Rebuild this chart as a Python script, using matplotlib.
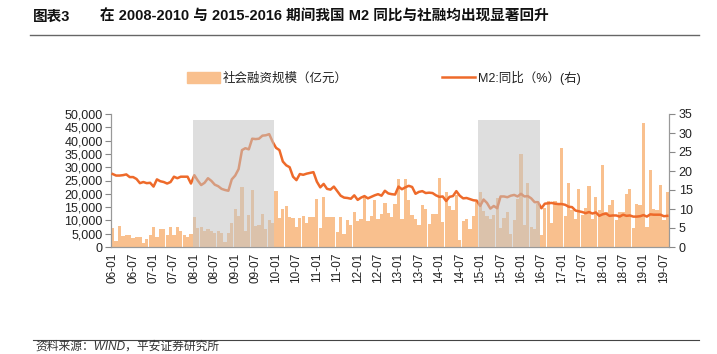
import matplotlib
matplotlib.use("Agg")
import matplotlib.pyplot as plt
from matplotlib.lines import Line2D
from matplotlib.ticker import FuncFormatter, MultipleLocator
import numpy as np

plt.rcParams['font.family'] = ['Liberation Sans', 'Noto Sans CJK SC', 'DejaVu Sans']

# ---------------- data ----------------
years = list(range(2006, 2020))
months_per_year = [12] * 13 + [8]

sf_2006 = [7000, 2300, 7900, 4100, 4400, 4400, 3300, 3900, 3600, 1600, 3100, 4400]
sf_2007 = [7400, 3900, 6800, 6600, 4500, 7500, 4500, 7500, 5900, 4400, 3800, 4900]
sf_2008 = [11300, 7000, 7600, 6000, 6600, 6100, 5400, 6100, 5100, 2000, 5100, 8900]
sf_2009 = [14400, 11700, 22400, 6100, 12000, 21400, 7900, 8300, 12300, 6600, 10200, 8900]
sf_2010 = [21000, 11000, 14200, 15400, 11100, 10800, 7600, 11000, 11600, 9100, 11100, 11400]
sf_2011 = [17900, 7000, 18700, 11400, 11100, 11100, 5800, 11100, 4900, 10100, 8300, 13300]
sf_2012 = [9700, 10400, 18700, 9600, 11800, 17800, 10400, 12400, 16500, 12900, 11400, 16300]
sf_2013 = [25400, 10700, 25500, 17600, 11900, 10400, 8200, 15800, 14100, 8600, 12300, 12500]
sf_2014 = [25800, 9400, 20700, 15500, 14000, 19700, 2700, 9600, 10500, 6600, 11500, 16900]
sf_2015 = [20500, 13600, 11800, 10500, 12200, 18300, 7200, 10800, 13000, 4800, 10200, 18200]
sf_2016 = [35000, 8300, 24000, 7500, 6600, 16300, 4500, 14700, 17200, 8900, 17400, 16300]
sf_2017 = [37400, 11500, 24000, 13900, 10600, 21700, 12200, 14800, 22800, 10400, 18700, 14000]
sf_2018 = [31000, 13000, 15800, 17700, 10100, 13000, 13000, 19900, 21700, 7300, 16000, 15900]
sf_2019 = [46500, 7600, 28900, 14400, 14000, 23300, 10100, 20800]

m2_2006 = [19.2, 18.8, 18.8, 18.9, 19.1, 18.4, 18.4, 17.9, 16.8, 17.1, 16.8, 16.9]
m2_2007 = [15.9, 17.8, 17.3, 17.1, 16.7, 17.1, 18.5, 18.1, 18.5, 18.5, 18.5, 16.7]
m2_2008 = [18.9, 17.5, 16.3, 16.9, 18.1, 17.4, 16.4, 16.0, 15.3, 15.0, 14.8, 17.8]
m2_2009 = [18.8, 20.5, 25.5, 26.0, 25.7, 28.5, 28.4, 28.5, 29.3, 29.4, 29.7, 27.7]
m2_2010 = [26.1, 25.5, 22.5, 21.5, 21.0, 18.5, 17.6, 19.2, 19.0, 19.3, 19.5, 19.7]
m2_2011 = [17.2, 15.7, 16.6, 15.3, 15.1, 15.9, 14.7, 13.5, 13.0, 12.9, 12.7, 13.6]
m2_2012 = [12.4, 13.0, 13.4, 12.8, 13.2, 13.6, 13.9, 13.5, 14.8, 14.1, 13.9, 13.8]
m2_2013 = [15.9, 15.2, 15.7, 16.1, 15.8, 14.0, 14.5, 14.7, 14.2, 14.3, 14.2, 13.6]
m2_2014 = [13.2, 13.3, 12.1, 13.2, 13.4, 14.7, 13.5, 12.8, 12.9, 12.6, 12.3, 12.2]
m2_2015 = [10.8, 12.5, 11.6, 10.1, 10.8, 10.2, 13.3, 13.3, 13.1, 13.5, 13.7, 13.3]
m2_2016 = [14.0, 13.3, 13.4, 12.8, 11.8, 11.8, 10.2, 11.4, 11.5, 11.6, 11.4, 11.3]
m2_2017 = [11.3, 11.1, 10.6, 10.5, 9.6, 9.4, 9.2, 8.9, 9.2, 8.8, 9.1, 8.2]
m2_2018 = [8.6, 8.8, 8.2, 8.3, 8.3, 8.0, 8.5, 8.2, 8.3, 8.0, 8.0, 8.1]
m2_2019 = [8.4, 8.0, 8.6, 8.5, 8.5, 8.5, 8.1, 8.2]

shade_periods = [("08-01", "10-01"), ("15-01", "16-07")]

series_sf = (sf_2006 + sf_2007 + sf_2008 + sf_2009 + sf_2010 + sf_2011 + sf_2012 +
             sf_2013 + sf_2014 + sf_2015 + sf_2016 + sf_2017 + sf_2018 + sf_2019)
series_m2 = (m2_2006 + m2_2007 + m2_2008 + m2_2009 + m2_2010 + m2_2011 + m2_2012 +
             m2_2013 + m2_2014 + m2_2015 + m2_2016 + m2_2017 + m2_2018 + m2_2019)
labels = [f"{y % 100:02d}-{m:02d}" for y, n in zip(years, months_per_year) for m in range(1, n + 1)]

# ---------------- figure ----------------
fig = plt.figure(figsize=(7.17, 3.54), dpi=100)
ax = fig.add_axes([111 / 717, 1 - 247 / 354, (669 - 111) / 717, (247 - 114) / 354])
ax2 = ax.twinx()

x = np.arange(len(labels))
bar_color = '#f9c08e'
line_color = '#ee6a2a'
txt = '#222222'

ax.bar(x, series_sf, width=0.95, color=bar_color, linewidth=0, zorder=2)
ax2.plot(x, series_m2, color=line_color, lw=1.8, zorder=3)

ax.set_xlim(-0.5, len(labels) - 0.5)
ax.set_ylim(0, 50000)
ax2.set_ylim(0, 35)
ax.yaxis.set_major_locator(MultipleLocator(5000))
ax2.yaxis.set_major_locator(MultipleLocator(5))
ax.yaxis.set_major_formatter(FuncFormatter(lambda v, p: f"{int(v):,}"))

ticks = x[::6]
ax.set_xticks(ticks)
ax.set_xticklabels([labels[i] for i in ticks], rotation=90, fontsize=8.5, color=txt)
ax.tick_params(axis='x', direction='in', length=3, color='#888888', pad=4)
ax.tick_params(axis='y', labelsize=9, labelcolor=txt, length=4, color='#888888', pad=2)
ax2.tick_params(axis='y', labelsize=9, labelcolor=txt, length=4, color='#888888', pad=3)

for a in (ax, ax2):
    a.spines['top'].set_visible(False)
    for s in ('left', 'right', 'bottom'):
        a.spines[s].set_color('#999999')
        a.spines[s].set_linewidth(0.8)

# shaded periods drawn on top (semi transparent)
for s, e in shade_periods:
    i0 = labels.index(s) - 0.5
    i1 = labels.index(e) - 0.5
    ax2.fill_between([i0, i1], 0, 33.3, color='#c4c4c4', alpha=0.55, linewidth=0, zorder=5)

# legend
h1 = plt.Rectangle((0, 0), 1, 1, color=bar_color)
h2 = Line2D([0], [0], color=line_color, lw=1.8)
fig.legend([h1, h2], ['社会融资规模（亿元）', 'M2:同比（%）(右)'], loc='center',
           bbox_to_anchor=(0.535, 0.78), ncol=2, frameon=False, fontsize=9,
           handlelength=2.7, handleheight=0.9, handletextpad=0.2, columnspacing=7.5,
           labelcolor=txt)

# title & decoration
fig.text(33 / 717, 1 - 17 / 354, '图表3', fontsize=10.5, fontweight='bold', va='center', color='#111111')
fig.text(100 / 717, 1 - 17 / 354, '在 2008-2010 与 2015-2016 期间我国 M2 同比与社融均出现显著回升',
         fontsize=10.5, fontweight='bold', va='center', color='#111111')
fig.add_artist(Line2D([30 / 717, 699 / 717], [1 - 35 / 354] * 2, color='#666666', lw=1.0))
fig.add_artist(Line2D([33 / 717, 699 / 717], [1 - 340 / 354] * 2, color='#444444', lw=0.8))
fig.text(35 / 717, 1 - 347 / 354, '资料来源：WIND，平安证券研究所', fontsize=8.5, style='italic',
         va='center', color='#333333')

fig.savefig('out.png', dpi=100)
